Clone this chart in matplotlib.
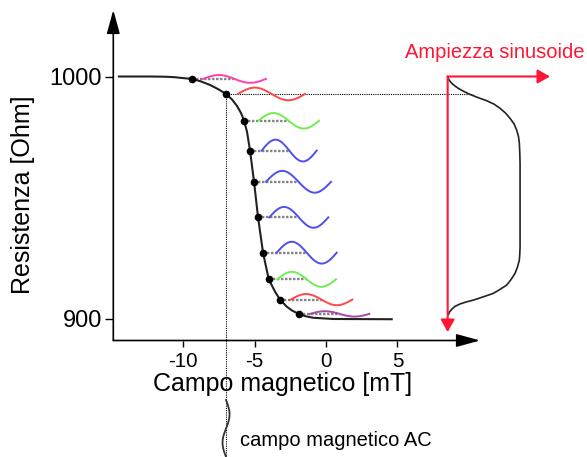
import matplotlib.pyplot as plt
import numpy as np

plt.rcParams['font.family'] = ['Liberation Sans', 'DejaVu Sans']
plt.rcParams['axes.unicode_minus'] = False

# R(B) characteristic, points (mT, Ohm)
curve_b = [-14.5, -12.3, -11.2, -10.6, -9.40, -8.82, -8.12, -7.56, -7.00, -6.58,
           -6.23, -5.95, -5.74, -5.53, -5.32, -5.04, -4.76, -4.41, -4.01, -3.57,
           -3.22, -2.75, -2.38, -1.91, -1.47, -0.89, 0.51, 4.60]
curve_r = [1000.0, 1000.0, 999.9, 999.7, 999.0, 998.1, 996.5, 994.8, 992.8, 990.5,
           987.8, 984.9, 981.8, 977.1, 969.4, 956.5, 941.9, 927.2, 916.2, 911.1,
           907.8, 904.9, 903.3, 901.9, 901.0, 900.3, 899.8, 899.7]

# operating points on the curve
op_b = [-9.40, -7.00, -5.74, -5.32, -5.04, -4.78, -4.39, -4.01, -3.22, -1.91]
op_r = [999.0, 992.8, 981.7, 969.4, 956.5, 941.8, 927.2, 916.2, 907.8, 901.9]

# output sinusoids next to each operating point
wave_start = [-8.61, -6.16, -4.74, -4.50, -4.20, -3.97, -3.45, -3.41, -2.47, -1.12]
wave_end = [-4.20, -1.47, -0.49, -0.65, 0.35, 0.16, 0.75, 0.70, 1.84, 3.03]
wave_amp = [1.6, 2.6, 3.2, 4.5, 4.5, 4.3, 4.5, 3.1, 2.3, 1.1]
wave_colors = ['#ff40b0', '#ff4848', '#70ee50', '#4f4ff0', '#4f4ff0',
               '#4f4ff0', '#4f4ff0', '#70ee50', '#ff4848', '#a848a8']

# sinusoid amplitude vs resistance (right-hand sketch)
amp_b = [8.52, 8.61, 8.80, 9.03, 9.26, 9.66, 10.08, 10.64, 11.25, 11.76,
         12.18, 12.57, 12.89, 13.17, 13.35, 13.48, 13.54, 13.57, 13.59,
         13.59, 13.57, 13.54, 13.41, 13.24, 12.96, 12.65, 12.18, 11.72,
         10.99, 10.32, 9.80, 9.38, 9.03, 8.80, 8.65, 8.56]
amp_r = [999.9, 998.6, 997.2, 996.1, 995.1, 993.8, 992.6, 991.3, 990.0, 988.6,
         986.9, 984.9, 982.7, 980.4, 977.9, 975.2, 972.4, 968.4, 964.1,
         929.7, 926.7, 924.2, 921.3, 918.7, 916.1, 913.8, 912.0, 910.4,
         908.9, 907.6, 906.8, 906.0, 905.0, 903.8, 902.7, 901.5]

x_ticks = [-10, -5, 0, 5]
y_ticks = [900, 1000]

W, H = 587, 457
fig = plt.figure(figsize=(W / 100, H / 100), dpi=100)
ax = fig.add_axes([113.3 / W, (H - 340.5) / H, (480 - 113.3) / W, (340.5 - 10) / H])
ax.set_xlim(-14.895, 10.784)
ax.set_ylim(890.91, 1027.48)
for s in ax.spines.values():
    s.set_visible(False)

ax.set_xticks(x_ticks)
ax.set_yticks(y_ticks)
ax.tick_params(axis='x', direction='out', length=4.5, width=1, pad=3.5, labelsize=14.8)
ax.tick_params(axis='y', direction='out', length=5.5, width=1, pad=2.5, labelsize=17)

# arrowed axes
ax.annotate('', xy=(1, 0), xytext=(0, 0), xycoords='axes fraction',
            arrowprops=dict(arrowstyle='-|>,head_length=1.45,head_width=0.4',
                            color='black', lw=1.2, shrinkA=0, shrinkB=0))
ax.annotate('', xy=(0, 1), xytext=(0, 0), xycoords='axes fraction',
            arrowprops=dict(arrowstyle='-|>,head_length=1.45,head_width=0.4',
                            color='black', lw=1.2, shrinkA=0, shrinkB=0))

# guide lines for the working point
ax.plot([op_b[1], op_b[1]], [op_r[1], 842.8], color='black', ls=(0, (1, 1)),
        lw=0.8, clip_on=False)
ax.plot([op_b[1], 10.3], [op_r[1], op_r[1]], color='black', ls=(0, (1, 1)),
        lw=0.8, clip_on=False)

# waves + short dotted leaders
for i in range(len(op_b)):
    xs = np.linspace(wave_start[i], wave_end[i], 80)
    ys = op_r[i] + wave_amp[i] * np.sin(2 * np.pi * (xs - wave_start[i]) /
                                        (wave_end[i] - wave_start[i]))
    if i != 1:
        mid = (wave_start[i] + wave_end[i]) / 2
        ax.plot([op_b[i], mid], [op_r[i], op_r[i]], color='#808080',
                ls=(0, (1, 0.7)), lw=1.7, clip_on=False)
    ax.plot(xs, ys, color=wave_colors[i], lw=1.4, clip_on=False)

ax.plot(curve_b, curve_r, color='#222222', lw=1.5, clip_on=False)
ax.plot(op_b, op_r, 'o', color='black', ms=4.5, clip_on=False)

# amplitude sketch
red = '#ff1535'
ax.plot(amp_b, amp_r, color='#222222', lw=1.2, clip_on=False)
ax.annotate('', xy=(amp_b[0], 894.4), xytext=(amp_b[0], 1000),
            arrowprops=dict(arrowstyle='-|>,head_length=0.75,head_width=0.42',
                            color=red, lw=1.5, shrinkA=0, shrinkB=0),
            annotation_clip=False)
ax.annotate('', xy=(15.69, 1000), xytext=(amp_b[0], 1000),
            arrowprops=dict(arrowstyle='-|>,head_length=0.75,head_width=0.42',
                            color=red, lw=1.5, shrinkA=0, shrinkB=0),
            annotation_clip=False)

# AC field squiggle below the axis
sq_r = np.linspace(866.3, 842.8, 60)
sq_b = op_b[1] + 0.245 * np.sin(2 * np.pi * (866.3 - sq_r) / (866.3 - 842.8))
ax.plot(sq_b, sq_r, color='#333333', lw=1.3, clip_on=False)

fig.text(282.5 / W, 1 - 391 / H, 'Campo magnetico [mT]', ha='center',
         va='baseline', fontsize=18)
fig.text(23 / W, 1 - 195 / H, 'Resistenza [Ohm]', rotation=90, ha='center',
         va='center', fontsize=18)
fig.text(405 / W, 1 - 57.5 / H, 'Ampiezza sinusoide', color=red,
         va='baseline', fontsize=14.5)
fig.text(240 / W, 1 - 446 / H, 'campo magnetico AC', va='baseline', fontsize=14.5)

fig.savefig('out.png', dpi=100)
